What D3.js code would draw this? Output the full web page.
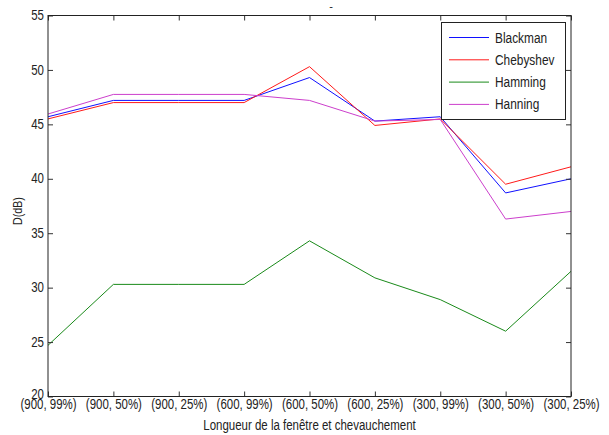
<!DOCTYPE html>
<html><head><meta charset="utf-8">
<script src="https://cdn.jsdelivr.net/npm/d3@7/dist/d3.min.js"></script>
<style>body{margin:0;background:#fff;} text{font-family:"Liberation Sans",Arial,sans-serif;fill:#222;}</style>
</head><body>
<svg id="c" width="609" height="435"></svg>
<script>
const categories = ["(900, 99%)","(900, 50%)","(900, 25%)","(600, 99%)","(600, 50%)","(600, 25%)","(300, 99%)","(300, 50%)","(300, 25%)"];
const blackman  = [45.7, 47.2, 47.2, 47.2, 49.3, 45.3, 45.7, 38.7, 40.0];
const chebyshev = [45.5, 47.0, 47.0, 47.0, 50.3, 44.9, 45.5, 39.5, 41.1];
const hamming   = [24.7, 30.3, 30.3, 30.3, 34.3, 30.9, 28.9, 26.0, 31.5];
const hanning   = [45.95, 47.75, 47.75, 47.75, 47.2, 45.3, 45.45, 36.3, 37.0];
const yTicks = [20, 25, 30, 35, 40, 45, 50, 55];
const seriesNames = ["Blackman","Chebyshev","Hamming","Hanning"];
const seriesColors = ["#1010ff","#ff1a1a","#1a8a1a","#cc3fcc"];
const seriesData = [blackman, chebyshev, hamming, hanning];

const SX = 0.82; // condensed look
const svg = d3.select("#c");
const L = 48, R = 571, T = 15.5, B = 396.5;
const x = d3.scalePoint().domain(categories).range([L, R]);
const y = d3.scaleLinear().domain([20, 55]).range([B, T]);

// lines
const line = d3.line().x((d,i)=>x(categories[i])).y(d=>y(d));
seriesData.forEach((s,k)=>{
  svg.append("path").datum(s).attr("d", line).attr("fill","none")
    .attr("stroke", seriesColors[k]).attr("stroke-width", 1);
});

// axes
svg.append("g").attr("transform",`translate(0,${B})`)
  .call(d3.axisBottom(x).tickSize(-5).tickPadding(5))
  .call(g=>{g.selectAll(".domain").remove();
    g.selectAll("text").attr("font-size",14).attr("fill","#222").attr("y",1.5).attr("dy","0.8em")
      .attr("transform",`scale(${SX},1)`);
    g.selectAll("line").attr("stroke","#333");});
svg.append("g").attr("transform",`translate(0,${T})`)
  .call(d3.axisTop(x).tickSize(-5).tickFormat(""))
  .call(g=>{g.selectAll(".domain").remove(); g.selectAll("line").attr("stroke","#333");});
svg.append("g").attr("transform",`translate(${L},0)`)
  .call(d3.axisLeft(y).tickValues(yTicks).tickSize(-5).tickPadding(4))
  .call(g=>{g.selectAll(".domain").remove();
    g.selectAll("text").attr("font-size",14).attr("fill","#222").attr("x",-4/SX)
      .attr("dy",d=>d===20?"0.15em":"0.3em")
      .attr("transform",`scale(${SX},1)`);
    g.selectAll("line").attr("stroke","#333");});
svg.append("g").attr("transform",`translate(${R},0)`)
  .call(d3.axisRight(y).tickValues(yTicks).tickSize(-5).tickFormat(""))
  .call(g=>{g.selectAll(".domain").remove(); g.selectAll("line").attr("stroke","#333");});

svg.append("rect").attr("x",L).attr("y",T).attr("width",R-L).attr("height",B-T)
  .attr("fill","none").attr("stroke","#222").attr("stroke-width",1);

// labels
svg.append("text").attr("transform",`translate(${(L+R)/2},430) scale(${SX},1)`).attr("text-anchor","middle").attr("font-size",14)
  .text("Longueur de la fenêtre et chevauchement");
svg.append("text").attr("transform",`translate(22,211) rotate(-90) scale(${SX},1)`).attr("text-anchor","middle").attr("font-size",13)
  .text("D(dB)");
svg.append("text").attr("x",331).attr("y",10).attr("text-anchor","middle").attr("font-size",11).text("-");

// legend
const lg = svg.append("g");
lg.append("rect").attr("x",441.5).attr("y",22.5).attr("width",124).attr("height",97)
  .attr("fill","#fff").attr("stroke","#222").attr("stroke-width",1);
seriesNames.forEach((n,k)=>{
  const yy = 37.5 + k*22.3;
  lg.append("line").attr("x1",449).attr("x2",489).attr("y1",yy).attr("y2",yy)
    .attr("stroke",seriesColors[k]).attr("stroke-width",1);
  lg.append("text").attr("transform",`translate(495,${yy}) scale(${SX},1)`).attr("dy","0.35em").attr("font-size",14.5).text(n);
});
</script>
</body></html>
